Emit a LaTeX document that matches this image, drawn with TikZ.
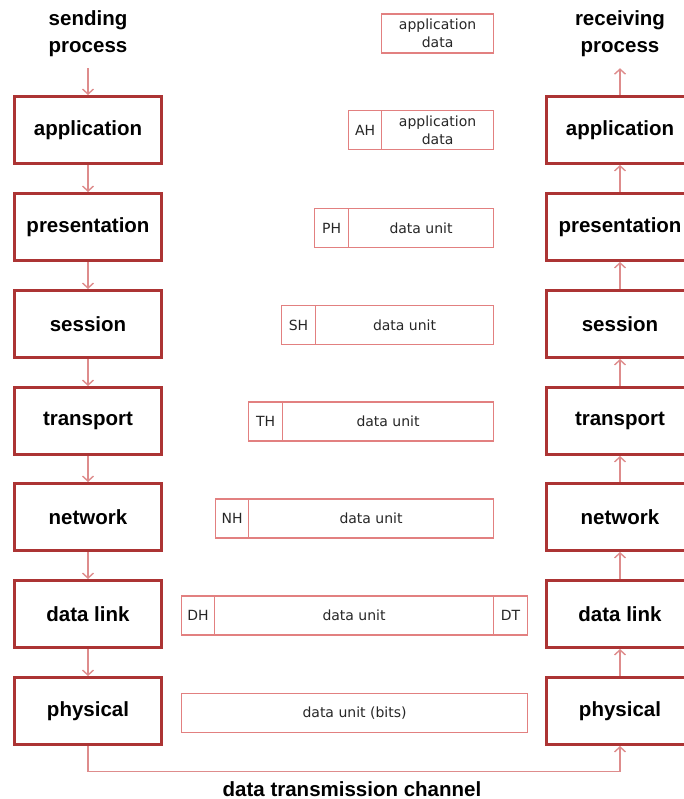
\documentclass[tikz,border=0pt]{standalone}
\usepackage{fontspec}
\setmainfont{Liberation Sans}
\newfontfamily\smallfnt{DejaVu Sans}
\usetikzlibrary{arrows.meta}
\definecolor{boxred}{RGB}{172,52,52}
\definecolor{pk}{RGB}{226,128,128}
\definecolor{arr}{RGB}{222,140,140}
\begin{document}
\begin{tikzpicture}[x=1pt,y=-1pt,
 layer/.style={draw=boxred, line width=3pt, minimum width=147pt, minimum height=67pt, inner sep=0pt, font=\fontsize{20.5}{24}\selectfont\bfseries},
 ttl/.style={align=center, inner sep=0pt, font=\fontsize{20.5}{27}\selectfont\bfseries},
 pdu/.style={draw=pk, line width=1.1pt, minimum height=39pt, inner sep=0pt, anchor=west, align=center, text=black!85, font=\smallfnt\fontsize{14}{18}\selectfont},
 flow/.style={draw=arr, line width=1.4pt, -{Straight Barb[length=5pt,width=11pt]}}]
\useasboundingbox (0,0) rectangle (683,799);

% titles
\node[ttl] (send) at (88,34) {sending\\process};
\node[ttl] (recv) at (620,34) {receiving\\process};

% sending stack
\node[layer] (sapp)  at (88,130)   {application};
\node[layer] (spres) at (88,227)   {presentation};
\node[layer] (ssess) at (88,324)   {session};
\node[layer] (strans) at (88,421)  {transport};
\node[layer] (snet)  at (88,517)   {network};
\node[layer] (sdl)   at (88,614)   {data link};
\node[layer] (sphy)  at (88,711)   {physical};

% receiving stack
\node[layer] (rapp)  at (620,130)   {application};
\node[layer] (rpres) at (620,227)   {presentation};
\node[layer] (rsess) at (620,324)   {session};
\node[layer] (rtrans) at (620,421)  {transport};
\node[layer] (rnet)  at (620,517)   {network};
\node[layer] (rdl)   at (620,614)   {data link};
\node[layer] (rphy)  at (620,711)   {physical};

% data units
\node[pdu, minimum width=112pt] (ad) at (381,33.5) {application\\data};

\node[pdu, minimum width=33pt]  (ah)  at (348,130) {AH};
\node[pdu, minimum width=112pt] (ahd) at (381,130) {application\\data};

\node[pdu, minimum width=34pt]  (ph)  at (314,228) {PH};
\node[pdu, minimum width=145pt] (phd) at (348,228) {data unit};

\node[pdu, minimum width=34pt]  (sh)  at (281,325) {SH};
\node[pdu, minimum width=178pt] (shd) at (315,325) {data unit};

\node[pdu, minimum width=34pt]  (th)  at (248,421.5) {TH};
\node[pdu, minimum width=211pt] (thd) at (282,421.5) {data unit};

\node[pdu, minimum width=33pt]  (nh)  at (215,518.5) {NH};
\node[pdu, minimum width=245pt] (nhd) at (248,518.5) {data unit};

\node[pdu, minimum width=33pt]  (dh)  at (181,615.5) {DH};
\node[pdu, minimum width=279pt] (dhd) at (214,615.5) {data unit};
\node[pdu, minimum width=34pt]  (dt)  at (493,615.5) {DT};

\node[pdu, minimum width=346pt] (bits) at (181,713) {data unit (bits)};

% sending arrows
\draw[flow, shorten <=11pt] (send.south) -- (sapp.north);
\draw[flow] (sapp.south) -- (spres.north);
\draw[flow] (spres.south) -- (ssess.north);
\draw[flow] (ssess.south) -- (strans.north);
\draw[flow] (strans.south) -- (snet.north);
\draw[flow] (snet.south) -- (sdl.north);
\draw[flow] (sdl.south) -- (sphy.north);

% receiving arrows
\draw[flow] (rphy.north) -- (rdl.south);
\draw[flow] (rdl.north) -- (rnet.south);
\draw[flow] (rnet.north) -- (rtrans.south);
\draw[flow] (rtrans.north) -- (rsess.south);
\draw[flow] (rsess.north) -- (rpres.south);
\draw[flow] (rpres.north) -- (rapp.south);
\draw[flow, shorten >=11pt] (rapp.north) -- (recv.south);

% channel
\draw[flow] (sphy.south) -- ++(0,25.5) -| (rphy.south);
\node[ttl] (chan) at (352,789) {data transmission channel};
\end{tikzpicture}
\end{document}
